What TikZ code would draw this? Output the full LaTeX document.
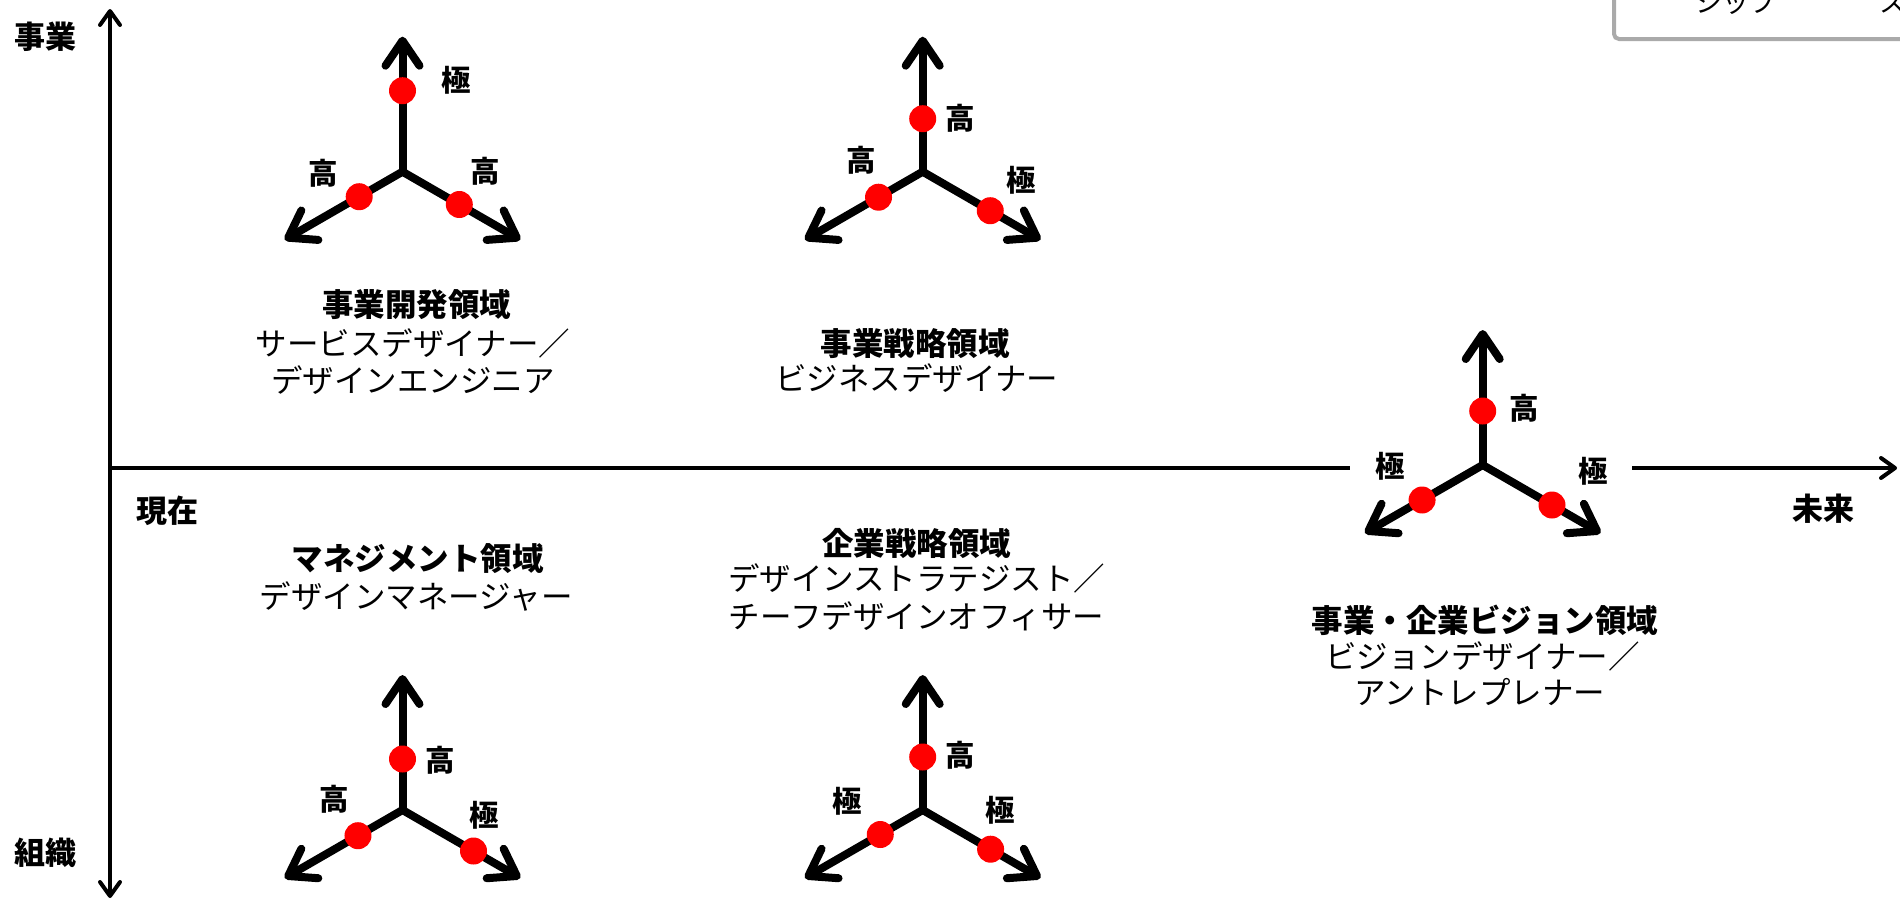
\documentclass[tikz,border=0pt]{standalone}
\usepackage{fontspec}
\setmainfont{Noto Sans CJK JP}
\usetikzlibrary{arrows.meta,calc}
\tikzset{
  axis/.style={line width=4pt},
  axtip/.style={-{Straight Barb[round,length=14pt,width=20pt]}},
  axtips/.style={{Straight Barb[round,length=14pt,width=20pt]}-{Straight Barb[round,length=14pt,width=20pt]}},
  arm/.style={line width=8pt,line cap=round,-{Straight Barb[round,length=25pt,width=34pt]}},
  dot/.style={circle,fill=red,draw=none,minimum size=27pt,inner sep=0pt},
  lab/.style={inner sep=0pt,font=\bfseries\fontsize{29.5}{32}\selectfont},
  axlab/.style={inner sep=0pt,font=\bfseries\fontsize{31}{33}\selectfont},
  head/.style={inner sep=0pt,font=\bfseries\fontsize{31.5}{36}\selectfont},
  sub/.style={inner sep=0pt,font=\fontsize{31.5}{36}\selectfont},
  boxline/.style={draw={rgb,255:red,170;green,170;blue,170},line width=4pt,rounded corners=5pt},
  boxtext/.style={inner sep=0pt,font=\fontsize{27}{30}\selectfont},
}
\newcommand\tripodfig[6]{%
  \coordinate (#1c) at (#2,#3);
  \coordinate (#1u) at ($(#1c)+(-90:135)$);
  \coordinate (#1l) at ($(#1c)+(150:136)$);
  \coordinate (#1r) at ($(#1c)+(30:136)$);
  \draw[arm] (#1c) -- (#1u);
  \draw[arm] (#1c) -- (#1l);
  \draw[arm] (#1c) -- (#1r);
  \node[dot] (#1dt) at ($(#1c)+(-90:#4)$) {};
  \node[dot] (#1dl) at ($(#1c)+(150:#5)$) {};
  \node[dot] (#1dr) at ($(#1c)+(30:#6)$) {};
}
\begin{document}
\begin{tikzpicture}[x=1pt,y=-1pt]
\useasboundingbox (0,0) rectangle (1900,900);
\fill[white] (0,0) rectangle (1900,900);

% partial box top right
\draw[boxline] (1614,-60) rectangle (1980,39);
\node[boxtext,anchor=base west] (bxa) at (1695,12) {シップ};
\node[boxtext,anchor=base west] (bxb) at (1879,12) {ス};

% axes
\coordinate (vtop) at (110,9);
\coordinate (vbot) at (110,898);
\coordinate (h0) at (110,468);
\coordinate (h1) at (1350,468);
\coordinate (h2) at (1632,468);
\coordinate (h3) at (1897,468);
\draw[axis,axtips] (vbot) -- (vtop);
\draw[axis] (h0) -- (h1);
\draw[axis,axtip] (h2) -- (h3);

\node[axlab] (ytop) at (45.7,37) {事業};
\node[axlab] (ybot) at (45.7,853) {組織};
\node[axlab] (xnow) at (167,511) {現在};
\node[axlab] (xfut) at (1823,509) {未来};

% tripods
\tripodfig{ta}{402.5}{171.7}{81}{50}{65.6}
\tripodfig{tb}{922.7}{171.7}{53}{51}{78}
\tripodfig{tc}{1482.7}{465}{54}{70}{80}
\tripodfig{td}{402.5}{810}{51}{51.4}{82}
\tripodfig{te}{922.7}{810}{53}{49}{78.4}

\node[lab] (ta1) at (456.4,80) {極};
\node[lab] (ta2) at (323.2,173.3) {高};
\node[lab] (ta3) at (485.7,171) {高};

\node[lab] (tb1) at (960,118.3) {高};
\node[lab] (tb2) at (861.7,160) {高};
\node[lab] (tb3) at (1021.7,180) {極};

\node[lab] (tc1) at (1524,408.3) {高};
\node[lab] (tc2) at (1390.7,466.7) {極};
\node[lab] (tc3) at (1593.3,471.7) {極};

\node[lab] (td1) at (440.4,760.7) {高};
\node[lab] (td2) at (333.9,799.5) {高};
\node[lab] (td3) at (484,815) {極};

\node[lab] (te1) at (960,755) {高};
\node[lab] (te2) at (847.3,801.7) {極};
\node[lab] (te3) at (1000.7,810) {極};

% text blocks
\node[head] (ah) at (416.7,305) {事業開発領域};
\node[sub] (a1) at (413,343) {サービスデザイナー／};
\node[sub] (a2) at (413,380) {デザインエンジニア};

\node[head] (bh) at (915,343.3) {事業戦略領域};
\node[sub] (b1) at (916.7,378.3) {ビジネスデザイナー};

\node[head] (ch) at (417.5,558.3) {マネジメント領域};
\node[sub] (c1) at (416.3,596.7) {デザインマネージャー};

\node[head] (dh) at (916.7,543.3) {企業戦略領域};
\node[sub] (d1) at (916.7,578.3) {デザインストラテジスト／};
\node[sub] (d2) at (916.7,616.7) {チーフデザインオフィサー};

\node[head] (eh) at (1485,620) {事業・企業ビジョン領域};
\node[sub] (e1) at (1482.5,656.7) {ビジョンデザイナー／};
\node[sub] (e2) at (1480,691.7) {アントレプレナー};
\end{tikzpicture}
\end{document}
